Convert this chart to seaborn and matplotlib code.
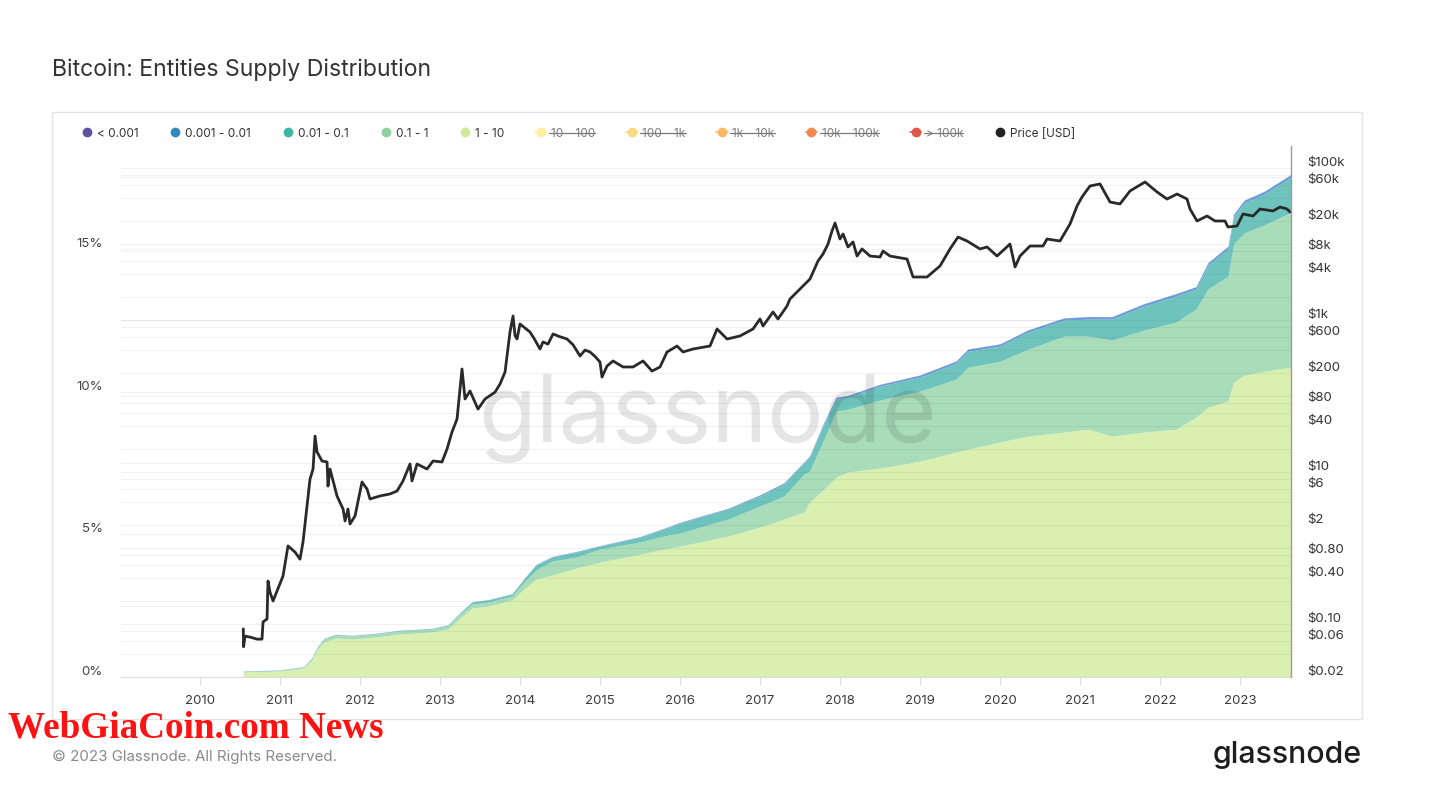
import numpy as np
import matplotlib
matplotlib.use("Agg")
import matplotlib.pyplot as plt
from matplotlib.lines import Line2D
from matplotlib.patches import Rectangle
from matplotlib.ticker import FixedLocator, NullFormatter
import seaborn as sns

# ---- data ----
cohorts = ["< 0.001", "0.001 - 0.01", "0.01 - 0.1", "0.1 - 1", "1 - 10",
           "10 - 100", "100 - 1k", "1k - 10k", "10k - 100k", "> 100k"]
hidden = ["10 - 100", "100 - 1k", "1k - 10k", "10k - 100k", "> 100k"]

# supply share (% of supply) held by entity cohort, decimal year
supply_dates = [2010.54, 2011.0, 2011.3, 2011.4, 2011.47, 2011.55, 2011.7, 2011.9, 2012.2, 2012.5,
                2012.9, 2013.1, 2013.25, 2013.4, 2013.6, 2013.9, 2014.05, 2014.2, 2014.4, 2014.7,
                2015.0, 2015.5, 2015.8, 2016.0, 2016.3, 2016.6, 2017.0, 2017.3, 2017.55, 2017.62,
                2017.8, 2017.95, 2018.1, 2018.5, 2019.0, 2019.45, 2019.6, 2020.0, 2020.35, 2020.8,
                2021.1, 2021.4, 2021.8, 2022.2, 2022.45, 2022.6, 2022.85, 2022.92, 2023.05, 2023.3,
                2023.64]
share_1_10 = [0.175, 0.21, 0.315, 0.595, 0.98, 1.225, 1.365, 1.33, 1.40, 1.505,
              1.575, 1.68, 2.065, 2.415, 2.485, 2.695, 3.08, 3.43, 3.57, 3.815,
              4.025, 4.305, 4.48, 4.585, 4.76, 4.935, 5.25, 5.53, 5.775, 6.125,
              6.58, 7.0, 7.18, 7.32, 7.56, 7.88, 7.98, 8.23, 8.44, 8.58,
              8.68, 8.44, 8.58, 8.68, 9.10, 9.45, 9.66, 10.33, 10.57, 10.71,
              10.85]
share_01_1 = [0.015, 0.02, 0.035, 0.07, 0.07, 0.105, 0.105, 0.10, 0.105, 0.105,
              0.105, 0.105, 0.14, 0.14, 0.14, 0.14, 0.245, 0.315, 0.49, 0.385,
              0.455, 0.425, 0.46, 0.455, 0.53, 0.595, 0.74, 0.81, 1.335, 1.085,
              1.75, 2.31, 2.20, 2.38, 2.45, 2.55, 2.87, 2.83, 3.04, 3.36,
              3.26, 3.36, 3.57, 3.75, 3.79, 4.14, 4.38, 4.83, 4.98, 5.12,
              5.43]
share_001_01 = [0.01, 0.01, 0.01, 0.015, 0.02, 0.02, 0.02, 0.02, 0.02, 0.02,
                0.02, 0.035, 0.035, 0.07, 0.07, 0.07, 0.105, 0.175, 0.14, 0.175,
                0.105, 0.17, 0.24, 0.35, 0.35, 0.35, 0.35, 0.42, 0.38, 0.49,
                0.53, 0.42, 0.42, 0.49, 0.49, 0.56, 0.56, 0.53, 0.60, 0.56,
                0.595, 0.735, 0.84, 0.91, 0.695, 0.84, 0.95, 0.95, 1.05, 1.08,
                1.23]
share_0001_001 = [0.005, 0.005, 0.005, 0.005, 0.005, 0.005, 0.005, 0.005, 0.005, 0.005,
                  0.005, 0.005, 0.01, 0.01, 0.01, 0.01, 0.015, 0.015, 0.015, 0.015,
                  0.015, 0.015, 0.025, 0.025, 0.025, 0.025, 0.04, 0.04, 0.04, 0.04,
                  0.06, 0.06, 0.06, 0.06, 0.075, 0.075, 0.075, 0.075, 0.075, 0.075,
                  0.085, 0.085, 0.085, 0.085, 0.085, 0.085, 0.095, 0.095, 0.095, 0.095,
                  0.095]
share_lt_0001 = [0.002, 0.002, 0.002, 0.002, 0.002, 0.002, 0.002, 0.002, 0.002, 0.002,
                 0.002, 0.002, 0.002, 0.002, 0.002, 0.002, 0.004, 0.004, 0.004, 0.004,
                 0.004, 0.004, 0.004, 0.004, 0.004, 0.004, 0.004, 0.004, 0.004, 0.004,
                 0.006, 0.006, 0.006, 0.006, 0.006, 0.006, 0.006, 0.006, 0.006, 0.006,
                 0.006, 0.006, 0.006, 0.006, 0.006, 0.006, 0.006, 0.006, 0.006, 0.006,
                 0.006]

# BTC price [USD]
price_dates = [2010.541, 2010.545, 2010.563, 2010.625, 2010.713, 2010.775, 2010.788, 2010.838, 2010.850, 2010.875,
               2010.913, 2010.963, 2011.038, 2011.100, 2011.188, 2011.250, 2011.288, 2011.338, 2011.375, 2011.413,
               2011.438, 2011.463, 2011.525, 2011.588, 2011.600, 2011.625, 2011.713, 2011.788, 2011.813, 2011.850,
               2011.875, 2011.938, 2012.025, 2012.088, 2012.125, 2012.250, 2012.375, 2012.463, 2012.538, 2012.625,
               2012.650, 2012.713, 2012.838, 2012.913, 2013.025, 2013.088, 2013.150, 2013.213, 2013.275, 2013.313,
               2013.375, 2013.475, 2013.563, 2013.688, 2013.750, 2013.813, 2013.875, 2013.913, 2013.938, 2013.963,
               2014.000, 2014.050, 2014.125, 2014.180, 2014.250, 2014.288, 2014.350, 2014.413, 2014.500, 2014.588,
               2014.663, 2014.750, 2014.813, 2014.875, 2014.938, 2015.000, 2015.025, 2015.088, 2015.163, 2015.288,
               2015.413, 2015.538, 2015.650, 2015.750, 2015.838, 2015.963, 2016.038, 2016.163, 2016.375, 2016.463,
               2016.588, 2016.750, 2016.913, 2017.000, 2017.038, 2017.163, 2017.225, 2017.338, 2017.375, 2017.500,
               2017.625, 2017.725, 2017.788, 2017.850, 2017.900, 2017.938, 2018.000, 2018.038, 2018.100, 2018.163,
               2018.213, 2018.275, 2018.375, 2018.500, 2018.538, 2018.625, 2018.838, 2018.913, 2019.088, 2019.250,
               2019.375, 2019.475, 2019.588, 2019.750, 2019.838, 2019.963, 2020.125, 2020.188, 2020.250, 2020.375,
               2020.538, 2020.588, 2020.750, 2020.875, 2020.963, 2021.025, 2021.125, 2021.250, 2021.375, 2021.500,
               2021.625, 2021.813, 2021.963, 2022.088, 2022.213, 2022.338, 2022.375, 2022.463, 2022.588, 2022.688,
               2022.813, 2022.850, 2022.963, 2023.038, 2023.163, 2023.250, 2023.413, 2023.500, 2023.588, 2023.625]
price_usd = [0.086, 0.050, 0.069, 0.067, 0.063, 0.063, 0.106, 0.116, 0.366, 0.262,
             0.200, 0.271, 0.427, 1.06, 0.88, 0.71, 1.20, 3.56, 8.05, 10.9,
             29.6, 18.3, 13.9, 13.5, 6.5, 10.9, 4.8, 3.25, 2.26, 3.25,
             2.06, 2.63, 7.36, 5.95, 4.40, 4.82, 5.12, 5.60, 7.59, 12.7,
             7.6, 12.7, 10.9, 13.9, 13.5, 20.0, 33.5, 49.6, 226, 91,
             116, 67, 91, 112, 143, 206, 692, 1125, 620, 560,
             883, 800, 692, 560, 414, 512, 480, 652, 600, 560,
             470, 335, 400, 378, 330, 279, 177, 247, 288, 240,
             240, 288, 212, 240, 378, 453, 378, 414, 453, 759,
             560, 614, 759, 1027, 830, 1270, 1027, 1523, 1883, 2548,
             3449, 5955, 7360, 9955, 14770, 18830, 11590, 13490, 9100, 10590,
             6920, 8570, 6920, 6720, 8050, 6920, 6320, 3665, 3665, 5115,
             8570, 12300, 10910, 8570, 9100, 6920, 9955, 4965, 6920, 9375,
             9375, 11590, 10910, 18270, 31480, 41400, 57780, 61380, 35560, 33500,
             49650, 65200, 48190, 38900, 45300, 38900, 28770, 20000, 23280, 20000,
             20000, 16670, 17180, 24720, 23280, 28770, 27100, 30550, 28770, 26250]

year_ticks = list(range(2010, 2024))
pct_ticks = [0, 5, 10, 15]
pct_labels = ["0%", "5%", "10%", "15%"]
pct_minor = [2.5, 7.5, 12.5, 17.5]
price_ticks = [0.02, 0.06, 0.1, 0.4, 0.8, 2, 6, 10, 40, 80, 200, 600,
               1e3, 4e3, 8e3, 2e4, 6e4, 1e5]
price_labels = ["$0.02", "$0.06", "$0.10", "$0.40", "$0.80", "$2", "$6", "$10", "$40",
                "$80", "$200", "$600", "$1k", "$4k", "$8k", "$20k", "$60k", "$100k"]
price_minor = [0.04, 0.08, 0.2, 0.6, 1, 4, 8, 20, 60, 100, 400, 800,
               2e3, 6e3, 1e4, 4e4, 8e4]

# ---- style ----
sns.set_theme(style="white")
plt.rcParams["font.family"] = ["Inter", "DejaVu Sans"]

legend_colors = ["#5e4fa2", "#3288bd", "#3db6a5", "#8ed19f", "#cdeb9a",
                 "#fbf0a0", "#fbd983", "#f9b865", "#f08a50", "#e0574a"]
fill_colors = ["#d9f0b1", "#a9dcb9", "#6ec4bd", "#6a9ed8", "#7d70bb"]

W, H = 1454, 812
fig = plt.figure(figsize=(W / 100, H / 100), dpi=100)
ax = fig.add_axes([121 / W, 1 - 678 / H, 1170 / W, 531 / H])

ax.stackplot(supply_dates, share_1_10, share_01_1, share_001_01, share_0001_001,
             share_lt_0001, colors=fill_colors, linewidth=0, zorder=2)
ax.set_xlim(2009.0125, 2023.6375)
ax.set_ylim(0, 18.6)
ax.set_xticks(year_ticks)
ax.set_xticklabels([str(y) for y in year_ticks])
ax.set_yticks(pct_ticks)
ax.set_yticklabels(pct_labels)
ax.yaxis.set_minor_locator(FixedLocator(pct_minor))
ax.yaxis.set_minor_formatter(NullFormatter())
ax.grid(which="both", axis="y", color="#000000", alpha=0.055, lw=0.8)
ax.grid(False, axis="x")
ax.set_axisbelow(True)
ax.tick_params(axis="x", bottom=True, length=6, width=0.8, color="#dadada",
               pad=6, labelsize=9.5, labelcolor="#3a3a3a")
ax.tick_params(axis="y", which="both", left=False, length=0, pad=13,
               labelsize=9.5, labelcolor="#444444")
for lab in ax.get_yticklabels():
    lab.set_verticalalignment("bottom")
for name, sp in ax.spines.items():
    sp.set_visible(name == "bottom")
ax.spines["bottom"].set_color("#dcdcdc")
ax.spines["bottom"].set_linewidth(0.8)

# watermark
ax.text(0.501, 0.488, "glassnode", transform=ax.transAxes, ha="center", va="center",
        fontsize=68, color="#000000", alpha=0.1, zorder=3)

# price on a log axis
ax2 = ax.twinx()
sns.lineplot(x=price_dates, y=price_usd, ax=ax2, color="#2a2a2a", linewidth=2.0,
             sort=False, estimator=None)
ax2.set_yscale("log")
ax2.set_ylim(0.02, 1.94e5)
ax2.set_yticks(price_ticks)
ax2.set_yticklabels(price_labels)
ax2.yaxis.set_minor_locator(FixedLocator(price_minor))
ax2.yaxis.set_minor_formatter(NullFormatter())
ax2.grid(which="both", axis="y", color="#000000", alpha=0.05, lw=0.8)
ax2.tick_params(axis="y", which="both", right=False, length=0, pad=12,
                labelsize=9.5, labelcolor="#333333")
for lab in ax2.get_yticklabels():
    lab.set_verticalalignment("bottom")
ax2.set_ylabel("")
for name, sp in ax2.spines.items():
    sp.set_visible(name == "right")
ax2.spines["right"].set_color("#9c9c9c")
ax2.spines["right"].set_linewidth(1.0)

# legend row
handles = []
for lab, c in zip(cohorts, legend_colors):
    if lab in hidden:
        handles.append(Line2D([], [], color=c, lw=1.2, marker="o", markersize=6))
    else:
        handles.append(Line2D([], [], color=c, lw=0, marker="o", markersize=6))
handles.append(Line2D([], [], color="#222222", lw=0, marker="o", markersize=6))
leg = fig.legend(handles, cohorts + ["Price [USD]"], loc="center left",
                 bbox_to_anchor=(81 / W, 1 - 134 / H), ncol=11, frameon=False,
                 fontsize=8.5, handlelength=1.0, handletextpad=0.35,
                 columnspacing=2.62, borderaxespad=0, borderpad=0)
for txt in leg.get_texts():
    txt.set_color("#7a7a7a" if txt.get_text() in hidden else "#333333")

# panel frame, title, footers
fig.add_artist(Rectangle((52 / W, 1 - 720 / H), 1310 / W, 607 / H, transform=fig.transFigure,
                         fill=False, edgecolor="#e4e4e4", lw=1))
fig.text(52 / W, 1 - 70 / H, "Bitcoin: Entities Supply Distribution", fontsize=16.6,
         color="#333333", va="center")
fig.text(52 / W, 1 - 757 / H, "© 2023 Glassnode. All Rights Reserved.", fontsize=10.9,
         color="#8a8a8a", va="center")
fig.text(1362 / W, 1 - 755 / H, "glassnode", ha="right", va="center", fontsize=21.8,
         color="#1e1e1e", fontweight="medium")
fig.text(8 / W, 1 - 728 / H, "WebGiaCoin.com News", family=["Liberation Serif", "DejaVu Serif"],
         fontweight="bold", color="#ff1212", fontsize=26.7, va="center")

# strike-through on the hidden legend entries
fig.canvas.draw()
inv = fig.transFigure.inverted()
for txt in leg.get_texts():
    if txt.get_text() in hidden:
        bb = txt.get_window_extent()
        ymid = bb.y0 + 0.47 * bb.height
        (x0, y0), (x1, y1) = inv.transform([(bb.x0 - 2, ymid), (bb.x1, ymid)])
        fig.add_artist(Line2D([x0, x1], [y0, y1], transform=fig.transFigure,
                              color="#7a7a7a", lw=0.9))

fig.savefig("out.png", dpi=100)
